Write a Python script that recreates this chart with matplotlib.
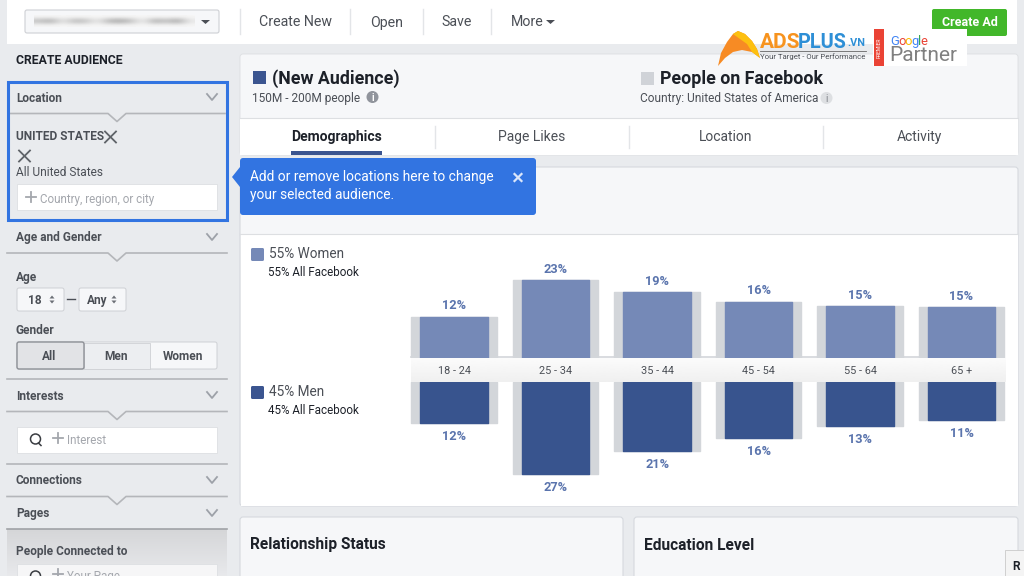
import numpy as np
import matplotlib
matplotlib.use("Agg")
import matplotlib.pyplot as plt
from matplotlib.patches import Rectangle, FancyBboxPatch, Polygon, Circle

plt.rcParams['font.family'] = ['Roboto', 'DejaVu Sans']

age_groups = ['18 - 24', '25 - 34', '35 - 44', '45 - 54', '55 - 64', '65 +']
women_pct = [12, 23, 19, 16, 15, 15]
men_pct = [12, 27, 21, 16, 13, 11]
women_bar = [12.1, 23.0, 19.4, 16.6, 15.2, 14.9]
men_bar = [12.2, 27.0, 20.5, 16.4, 13.0, 11.2]
fb_women = [12.1, 23.0, 19.4, 16.6, 15.2, 14.9]
fb_men = [12.2, 27.0, 20.5, 16.4, 13.0, 11.2]

W, H = 1024, 576
fig = plt.figure(figsize=(W / 100, H / 100), dpi=100, facecolor='#e9ebee')
ui = fig.add_axes([0, 0, 1, 1])
ui.set_xlim(0, W)
ui.set_ylim(H, 0)
ui.axis('off')

DARK = '#4b4f56'
BLUE = '#3274e1'
LINE = '#b4b6ba'
PANEL = '#f6f7f9'


def rect(x, y, w, h, fc, ec='none', lw=0, z=1):
    ui.add_patch(Rectangle((x, y), w, h, fc=fc, ec=ec, lw=lw, zorder=z))


def rrect(x, y, w, h, fc, ec='none', lw=0, r=2, z=1):
    ui.add_patch(FancyBboxPatch((x + r, y + r), w - 2 * r, h - 2 * r,
                                boxstyle=f'round,pad={r},rounding_size={r}',
                                fc=fc, ec=ec, lw=lw, zorder=z))


def txt(x, y, s, size=9, color=DARK, weight='normal', ha='left', z=5):
    ui.text(x, y - 1, s, fontsize=size, color=color, fontweight=weight, ha=ha,
            va='center_baseline', zorder=z)


def chevron(x, y):
    ui.plot([x - 5, x, x + 5], [y - 3, y + 3, y - 3], color='#9da1a8', lw=1.3, zorder=4)


def notch_line(y, cx=117, x0=7, x1=227):
    ui.plot([x0, cx - 9, cx, cx + 9, x1], [y, y, y + 8, y, y], color=LINE, lw=1.2, zorder=3)


def cross(x, y, r=5.5):
    ui.plot([x - r, x + r], [y - r, y + r], color='#5f6368', lw=1.3, zorder=5)
    ui.plot([x - r, x + r], [y + r, y - r], color='#5f6368', lw=1.3, zorder=5)


def updown(x, y):
    ui.add_patch(Polygon([[x - 2.5, y - 1], [x + 2.5, y - 1], [x, y - 4]], fc='#6b6f76', zorder=5))
    ui.add_patch(Polygon([[x - 2.5, y + 1], [x + 2.5, y + 1], [x, y + 4]], fc='#6b6f76', zorder=5))


# Top bar
rect(7, 0, 1010, 44, '#ffffff')
rrect(25, 10, 194, 23, PANEL, '#ced0d4', 0.8)
blur_strip = np.array([[0.965, 0.965, 0.965, 0.965, 0.965, 0.965, 0.965, 0.965, 0.965, 0.965, 0.965, 0.965, 0.965, 0.965],
                       [0.72, 0.62, 0.9, 0.68, 0.72, 0.92, 0.66, 0.6, 0.72, 0.94, 0.62, 0.74, 0.58, 0.9],
                       [0.965, 0.965, 0.965, 0.965, 0.965, 0.965, 0.965, 0.965, 0.965, 0.965, 0.965, 0.965, 0.965, 0.965]])
ui.imshow(blur_strip, extent=(34, 195, 27, 15), cmap='gray', vmin=0, vmax=1, aspect='auto',
          interpolation='bicubic', zorder=2)
ui.set_xlim(0, W)
ui.set_ylim(H, 0)
ui.add_patch(Polygon([[201, 20], [210, 20], [205.5, 24]], fc=DARK, zorder=3))
ui.plot([240, 240], [9, 34], color='#e3e5e8', lw=1)
for x_sep in [350, 423, 491]:
    ui.plot([x_sep, x_sep], [9, 34], color='#e3e5e8', lw=1)
for x_nav, s in [(259, 'Create New'), (370, 'Open'), (441, 'Save'), (511, 'More')]:
    txt(x_nav, 22, s, 10.2)
ui.add_patch(Polygon([[546, 20], [555, 20], [550.5, 24]], fc=DARK, zorder=3))
rrect(932, 9, 75, 27, '#42b72a', r=2)
txt(969.5, 22.5, 'Create Ad', 9, '#ffffff', 'bold', 'center')

# Sidebar
txt(16, 60.5, 'CREATE AUDIENCE', 8.8, '#1d2129', 'bold')
rect(8, 82, 218.5, 138, 'none', BLUE, 2.2, z=6)
txt(16, 97.5, 'Location', 8.6, DARK, 'bold')
chevron(212, 97)
notch_line(113.5, 117, 9, 225)
txt(16, 136, 'UNITED STATES', 8.6, DARK, 'bold')
cross(110.5, 137)
cross(24.5, 156)
txt(16, 171.5, 'All United States', 8.6)
rect(17, 184, 200, 26, '#ffffff', '#dddfe2', 0.6)
ui.plot([25.5, 35.5], [197, 197], color='#a4a7ad', lw=1.3, zorder=5)
ui.plot([30.5, 30.5], [192, 202], color='#a4a7ad', lw=1.3, zorder=5)
txt(40, 198.5, 'Country, region, or city', 8.4, '#a4a7ad')

txt(16, 237.5, 'Age and Gender', 8.6, DARK, 'bold')
chevron(212, 237)
notch_line(253)
txt(16, 276.5, 'Age', 8.6, DARK, 'bold')
rrect(17, 288, 47, 23, PANEL, '#ced0d4', 0.7)
txt(35, 300, '18', 8.6, DARK, 'bold', 'center')
updown(52, 299.5)
ui.plot([67, 75], [299, 299], color=DARK, lw=1)
rrect(79, 288, 47, 23, PANEL, '#ced0d4', 0.7)
txt(97, 300, 'Any', 8.6, DARK, 'bold', 'center')
updown(114, 299.5)
txt(16, 329.5, 'Gender', 8.6, DARK, 'bold')
rrect(17, 342, 200, 27, PANEL, '#ced0d4', 0.7)
rect(84, 342.5, 66, 26, '#eceef1', '#ced0d4', 0.6, z=2)
rrect(17, 342, 67, 27, '#e2e3e6', '#8d9096', 1, z=3)
txt(49.5, 355.5, 'All', 8.6, DARK, 'bold', 'center')
txt(116, 355.5, 'Men', 8.6, DARK, 'bold', 'center')
txt(183, 355.5, 'Women', 8.6, DARK, 'bold', 'center')
ui.plot([7, 227], [379, 379], color=LINE, lw=1.2)
txt(16, 395.5, 'Interests', 8.6, DARK, 'bold')
chevron(212, 395)
notch_line(411.5)
rect(17, 427, 200, 26, '#ffffff', '#dddfe2', 0.6)
ui.add_patch(Circle((35.5, 439), 5, fc='none', ec='#3a3d42', lw=1.1, zorder=5))
ui.plot([38.5, 41], [443, 445.5], color='#3a3d42', lw=1.1, zorder=5)
ui.plot([53, 63], [438, 438], color='#a4a7ad', lw=1.3, zorder=5)
ui.plot([58, 58], [433, 443], color='#a4a7ad', lw=1.3, zorder=5)
txt(67, 440, 'Interest', 8.4, '#a4a7ad')
ui.plot([7, 227], [464, 464], color=LINE, lw=1.2)
txt(16, 480.5, 'Connections', 8.6, DARK, 'bold')
chevron(212, 480)
notch_line(496.5)
txt(16, 513.5, 'Pages', 8.6, DARK, 'bold')
chevron(212, 513)
ui.plot([7, 227], [529, 529], color='#a0a2a6', lw=1.2, zorder=3)
grad = np.linspace(0, 1, 47)[:, None]
shade = np.array([0.835, 0.839, 0.847]) + grad[..., None] * (np.array([0.91, 0.914, 0.925]) - np.array([0.835, 0.839, 0.847]))
ui.imshow(shade, extent=(7, 227, 576, 529), aspect='auto', zorder=1)
ui.set_xlim(0, W)
ui.set_ylim(H, 0)
txt(16, 551.5, 'People Connected to', 8.6, DARK, 'bold')
rect(17, 564, 200, 20, '#f6f6f7', '#dddfe2', 0.6)
ui.add_patch(Circle((35.5, 576), 5, fc='none', ec='#3a3d42', lw=1.1, zorder=5))
ui.plot([53, 63], [574, 574], color='#a4a7ad', lw=1.3, zorder=5)
ui.plot([58, 58], [569, 579], color='#a4a7ad', lw=1.3, zorder=5)
txt(67, 576, 'Your Page', 8.4, '#a4a7ad')

# Audience header
rrect(240, 54, 778, 101, PANEL, '#dddfe2', 0.6, r=3)
rect(240, 118, 778, 37, '#ffffff', z=1.5)
ui.plot([240, 1018], [118, 118], color='#dddfe2', lw=0.8, zorder=2)
rect(252.5, 71, 13, 13, '#3b5590')
txt(272, 78, '(New Audience)', 12.8, '#1d2129', 'bold')
txt(252, 98, '150M - 200M people', 8.6)
ui.add_patch(Circle((372.5, 97), 6, fc='#90949c', zorder=5))
txt(372.5, 98, 'i', 7, '#ffffff', 'bold', 'center', z=6)
rect(640.5, 72, 13, 13, '#d0d3d8')
txt(660, 78, 'People on Facebook', 12.8, '#1d2129', 'bold')
txt(640, 98, 'Country: United States of America', 8.6)
ui.add_patch(Circle((826.5, 98), 6, fc='#dddfe2', zorder=5))
txt(826.5, 99, 'i', 7, '#7f8389', 'normal', 'center', z=6)
for x_tab, s, b in [(337, 'Demographics', True), (531.5, 'Page Likes', False), (725.5, 'Location', False), (919.5, 'Activity', False)]:
    txt(x_tab, 136.5, s, 10, '#1d2129' if b else DARK, 'bold' if b else 'normal', 'center')
for x_sep in [435, 629, 823]:
    ui.plot([x_sep, x_sep], [126, 148], color='#e3e5e8', lw=1, zorder=2)
rect(291, 151, 91, 4, '#3b5590', z=3)

# Chart card
rrect(240, 167, 778, 339, PANEL, '#d6d9de', 0.8, r=3)
rect(240.5, 234, 777, 271.5, '#ffffff', z=1.5)
ui.plot([240, 1018], [234, 234], color='#dddfe2', lw=0.8, zorder=2)
rrect(251, 248, 13, 13, '#7589b7', r=1.5, z=2)
txt(269, 254, '55% Women', 9.8)
txt(267.5, 272.5, '55% All Facebook', 8.4, '#1d2129')
rrect(251, 386, 13, 13, '#3b5590', r=1.5, z=2)
txt(269, 391.5, '45% Men', 9.8)
txt(267.5, 409.5, '45% All Facebook', 8.4, '#1d2129')

# Tooltip
rrect(240, 158, 296, 57, BLUE, r=3, z=7)
ui.add_patch(Polygon([[240, 167], [232, 177], [240, 187]], fc=BLUE, zorder=7))
txt(249.5, 177, 'Add or remove locations here to change', 9.92, '#ffffff', z=8)
txt(249.5, 195, 'your selected audience.', 9.92, '#ffffff', z=8)
ui.plot([514.5, 521.5], [174, 181], color='#dbe6fa', lw=1.6, zorder=8)
ui.plot([514.5, 521.5], [181, 174], color='#dbe6fa', lw=1.6, zorder=8)

# Lower cards
rrect(240, 517, 383, 70, PANEL, '#d6d9de', 0.8, r=3)
rrect(634, 517, 384, 70, PANEL, '#d6d9de', 0.8, r=3)
txt(250, 544.5, 'Relationship Status', 11.2, '#1d2129', 'bold')
txt(644, 544.5, 'Education Level', 11.2, '#1d2129', 'bold')
rect(1005, 550, 25, 30, '#f4f4f4', '#cfcfcf', 0.7)
txt(1012, 566, 'R', 8.6, '#1d2129', 'bold')

# Logo overlay
rect(873, 29, 94, 37, '#ffffff', z=8)
rect(874, 29, 10, 37, '#ea4335', z=9)
ui.text(878.8, 47.5, 'PREMIER', fontsize=3.6, color='#ffffff', rotation=90, ha='center', va='center', zorder=10)
gx = 890
for ch, c in zip('Google', ['#4285f4', '#ea4335', '#fbbc05', '#4285f4', '#34a853', '#ea4335']):
    ui.text(gx, 40, ch, fontsize=9.4, color=c, ha='left', va='center_baseline', zorder=10)
    gx += {'G': 8, 'o': 6.6, 'g': 6.6, 'l': 3, 'e': 5}[ch]
txt(889, 54.5, 'Partner', 15, '#808080', z=10)
ui.add_patch(Polygon([[718, 66], [721, 53], [727, 42], [733, 34], [738, 31], [745, 34], [752, 41], [757, 49],
                      [760, 58], [752, 52], [742, 50], [733, 52], [725, 58]], fc='#f78b24', zorder=8))
ui.add_patch(Polygon([[733, 34], [738, 31], [745, 34], [752, 41], [757, 49], [760, 58], [752, 52], [747, 44], [740, 39]],
                     fc='#fdc010', zorder=9))
ui.text(760, 41, 'ADS', fontsize=15, color='#f7931e', fontweight='bold', va='center_baseline', zorder=9)
ui.text(798, 41, 'PLUS', fontsize=14.3, color='#2e8fd6', fontweight='bold', va='center_baseline', zorder=9)
ui.text(847, 42.5, '.VN', fontsize=7.8, color='#2e8fd6', fontweight='bold', va='center_baseline', zorder=9)
ui.plot([760, 866], [51, 51], color='#666666', lw=0.6, zorder=9)
ui.text(760, 56, 'Your Target - Our Performance', fontsize=5.6, color='#4b4f56', va='center_baseline', zorder=9)


# Data axes (pixel-aligned with the reference)
def data_axes(top, bottom, ylim):
    ax = fig.add_axes([403.25 / W, 1 - bottom / H, 609.0 / W, (bottom - top) / H], zorder=3)
    ax.set_xlim(-0.5, 5.5)
    ax.set_ylim(*ylim)
    ax.axis('off')
    ax.patch.set_alpha(0)
    return ax


x = np.arange(len(age_groups))
PX = 3.39
ax_up = data_axes(250, 358, (0, 108 / PX))
ax_dn = data_axes(382, 500, (118 / PX, 0))
GREY = '#d3d6da'
W_FB, W_AUD = 0.84, 0.665
for ax, fb, aud, col, labels, off in [(ax_up, fb_women, women_bar, '#7589b7', women_pct, 12.5),
                                      (ax_dn, fb_men, men_bar, '#38548e', men_pct, -12)]:
    ax.bar(x, fb, W_FB, color=GREY, edgecolor=GREY, linewidth=1, joinstyle='round', zorder=1)
    ax.bar(x, aud, W_AUD, color=col, edgecolor=col, linewidth=1, joinstyle='round', zorder=2)
    for xi, v, p in zip(x, aud, labels):
        ax.annotate(f'{p}%', (xi, v), xytext=(0, off), textcoords='offset pixels',
                    ha='center', va='center_baseline', fontsize=9.2, fontweight='bold',
                    color='#5a74ad', zorder=3)

# Axis band
ax_up.plot([-0.42, 5.42], [0.15, 0.15], color=GREY, lw=1.2, zorder=0.5)
band = fig.add_axes([411 / W, 1 - 382 / H, 595 / W, 24 / H], zorder=4)
band.imshow(np.linspace(0.985, 0.94, 24)[:, None], cmap='gray', vmin=0, vmax=1, aspect='auto',
            extent=(ax_up.transData.inverted().transform((411, 0))[0],
                    ax_up.transData.inverted().transform((1006, 0))[0], 0, 1))
band.axis('off')
for xi, lab in zip(x, age_groups):
    band.text(xi, 0.52, lab, ha='center', va='center_baseline', fontsize=7.8, color='#4b4f56', zorder=10)
fig.savefig('out.png', dpi=100)
